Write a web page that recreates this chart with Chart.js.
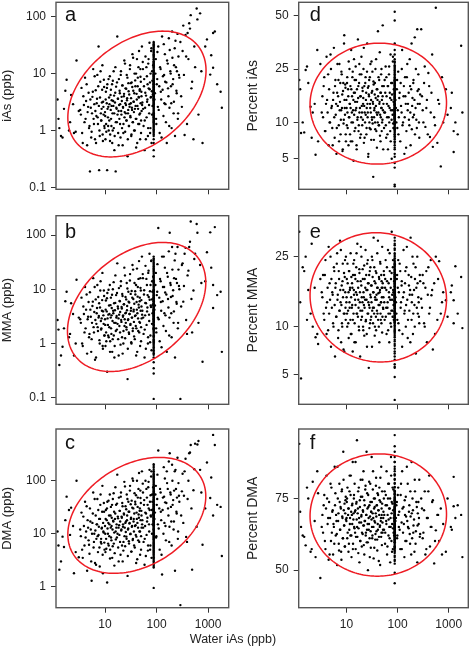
<!DOCTYPE html>
<html><head><meta charset="utf-8">
<script src="https://cdn.jsdelivr.net/npm/chart.js@4.4.1/dist/chart.umd.min.js"></script>
<style>
html,body{margin:0;padding:0;background:#fff;}
#wrap{position:relative;width:472px;height:649px;overflow:hidden;background:#fff;}
canvas{position:absolute;}
#xtitle{position:absolute;left:0;width:466px;top:632px;text-align:center;font-family:'Liberation Sans',Arial,sans-serif;font-size:12.5px;line-height:15px;color:#222;}
</style></head><body>
<div id="wrap">
<canvas id="pa" width="236" height="205" style="left:0;top:0"></canvas>
<canvas id="pd" width="236" height="205" style="left:236px;top:0"></canvas>
<canvas id="pb" width="236" height="205" style="left:0;top:205px"></canvas>
<canvas id="pe" width="236" height="205" style="left:236px;top:205px"></canvas>
<canvas id="pc" width="236" height="239" style="left:0;top:410px"></canvas>
<canvas id="pf" width="236" height="239" style="left:236px;top:410px"></canvas>
<div id="xtitle">Water iAs (ppb)</div>
</div>
<script>
// ---------------- DATA ----------------
// water iAs (ppb), shared by all six panels (same order in every y array)
const waterIAs = [
 1.2,1.3,1.5,1.6,1.8,2.0,2.2,2.5,2.8,3.1,
 3.4,3.5,3.7,3.9,4.0,4.1,4.3,4.5,4.6,4.8,
 5.0,5.1,5.3,5.5,5.7,5.9,6.0,6.2,6.4,6.6,
 6.8,7.0,7.1,7.3,7.5,7.7,7.9,8.1,8.3,8.5,
 8.7,8.9,9.1,9.3,9.6,9.8,
 10.0,10.2,10.4,10.5,10.8,11.0,11.1,11.4,11.6,11.8,
 12.0,12.1,12.4,12.6,12.9,13.0,13.3,13.5,13.8,14.0,
 14.2,14.5,14.8,15.0,15.2,15.6,15.9,16.1,16.4,16.8,
 17.0,17.3,17.7,18.0,18.3,18.6,19.0,19.4,19.7,20.0,
 20.4,20.8,21.2,21.6,22.0,22.4,22.8,23.2,23.7,24.1,
 24.6,25.0,25.5,26.0,26.4,26.9,27.4,27.9,28.4,29.0,
 29.5,30.0,30.6,31.2,31.7,32.3,32.9,33.5,34.1,34.8,
 35.4,36.1,36.7,37.4,38.1,38.8,39.5,40.2,41.0,41.7,
 42.5,43.3,44.1,44.9,45.7,46.5,47.4,48.0,48.5,49.0,
 49.5,50.1,50.7,51.3,52.0,
 53,54.5,56,57,58.5,60,61,62.5,64,65,66.5,68,69,70.5,72,73,74.5,76,77,78.5,80,81,82,83.5,
 93,97,99,103,106,108,113,115,120,123,128,131,136,140,145,149,155,158,165,170,
 176,180,188,193,200,205,214,219,228,233,243,249,259,266,277,
 290,310,330,350,375,400,430,460,490,520,560,600,650,700,780,880,
 1100,1250,1250,1350,1750,1850,
 // second block
 1.25,1.4,1.7,2.1,2.4,2.7,
 3.3,3.6,3.8,4.2,4.4,4.7,4.9,5.2,5.4,5.6,
 5.8,6.1,6.3,6.5,6.7,6.9,7.2,7.4,7.6,7.8,
 8.0,8.2,8.4,8.6,8.8,9.0,9.2,9.4,9.5,9.7,
 10.1,10.3,10.6,10.9,11.2,11.5,11.7,12.2,12.5,12.8,
 13.1,13.4,13.7,14.1,14.4,14.7,15.1,15.4,15.8,16.2,
 16.6,17.1,17.5,17.9,18.4,18.8,19.2,19.6,20.2,20.6,
 21.0,21.4,21.9,22.3,22.7,23.4,23.9,24.4,24.8,25.3,
 25.8,26.2,26.7,27.2,27.7,28.2,28.7,29.3,29.8,30.4,
 31.0,31.5,32.0,32.6,33.2,33.8,34.5,35.1,35.8,36.4,
 37.0,37.8,38.5,39.2,40.0,40.6,41.4,42.2,43.0,43.8,
 44.6,45.4,46.2,47.0,47.8,48.8,50.0,51.0,52.5,54.0,
 55,57.5,59,60.5,62,63.5,65.5,67,68.5,70,71.5,73.5,75,76.5,78,79.5,81.5,83,84.5,86,
 91,95,98,101,104,110,117,121,125,133,138,142,147,152,160,167,173,178,185,190,
 196,203,210,217,225,238,246,255,262,272,
 300,320,340,365,390,415,445,475,540,620,740,950,
 1150,1500
];
// samples sharing one water iAs value (vertical stripe)
const stripeWaterIAs = 88;

const iAsPpb = [
 3.5,1.1,0.75,2.4,7.8,1.0,4.2,0.9,17,2.2,
 1.9,5.6,0.6,2.8,1.4,8.5,3.3,0.55,2.1,4.6,
 1.2,0.19,2.5,0.95,3.9,12,1.6,2.9,0.7,5.1,
 1.8,3.6,9.5,1.3,30,0.2,0.8,7.2,2.0,1.5,
 3.1,14,0.65,2.6,5.8,1.1,
 2.1,0.7,4.8,1.3,3.0,0.2,6.5,1.7,2.6,1.0,
 3.8,1.5,9.0,0.85,2.3,5.2,1.2,3.4,0.6,2.0,
 7.5,2.7,1.1,4.1,0.45,3.1,13,0.19,5.9,2.4,
 1.4,45,3.6,0.9,2.2,8.0,1.6,4.5,2.9,0.75,
 11,1.9,3.3,6.2,0.55,2.5,1.3,4.0,17,2.1,
 0.95,5.5,2.8,1.5,9.5,3.7,0.35,2.0,6.8,1.2,
 4.3,2.6,14,1.7,3.0,0.8,7.0,2.3,22,1.4,
 5.0,3.2,1.0,10,2.4,6.0,1.6,0.5,4.4,18,
 2.7,8.5,1.3,3.9,25,1.9,5.3,0.7,12,3.0,
 7.2,1.5,4.8,2.2,30,
 3.1,12,1.2,6.0,0.45,2.5,20,4.1,1.7,9.0,3.5,0.8,15,5.5,2.0,35,7.0,1.1,3.8,25,0.6,4.9,11,2.7,
 4.5,18,1.3,8.0,2.6,30,6.0,0.9,12,3.5,45,5.2,1.8,9.5,22,2.9,7.0,0.6,15,4.0,
 1.2,26,10,3.0,55,6.5,2.0,14,0.8,38,5.0,11,1.6,20,8.5,
 36,2.6,70,0.83,20,52,77,107,7.2,0.7,13,140,1.9,115,0.6,30,
 9.6,52,12.7,55,4.8,2.5,
 // second block
 1.6,0.8,5.0,1.4,2.9,0.95,
 2.3,0.9,4.0,1.6,6.5,2.6,1.1,3.5,0.75,2.0,
 4.8,1.3,9.0,2.2,0.6,3.0,1.7,6.0,2.7,1.0,
 3.8,11,1.5,2.4,5.2,0.85,3.2,1.9,7.8,1.2,
 1.8,3.5,0.95,5.6,2.4,1.2,8.0,2.9,0.65,4.2,
 1.6,2.7,6.5,1.0,3.3,11,2.0,0.8,4.6,1.4,
 2.5,7.0,1.9,3.6,0.55,2.8,5.0,1.3,9.5,2.2,
 3.9,1.1,6.2,2.6,0.9,4.4,1.7,15,3.0,2.0,
 5.4,1.5,3.4,8.5,0.7,2.3,4.9,1.2,2.9,12,
 1.8,6.8,3.7,0.85,2.5,5.8,1.4,19,3.2,2.1,
 4.5,1.0,7.6,2.7,10,1.6,3.5,0.6,6.0,2.4,
 13,3.8,1.3,5.0,2.0,8.8,0.9,4.0,2.8,16,
 2.4,8.0,1.5,4.6,0.7,13,3.2,6.5,1.1,18,2.8,5.3,0.9,10,3.9,28,1.9,7.5,4.3,14,
 3.5,10,1.6,6.5,24,2.3,13,4.8,0.75,9.0,33,3.0,7.2,1.4,17,5.5,42,2.5,11,6.0,
 1.1,19,8.0,3.2,28,13,4.5,50,2.0,9.5,
 4.0,25,9.5,48,1.3,18,62,5.5,30,90,11,40,
 21,6.5
];
const iAsPpbStripe = [
 0.9,1.0,1.1,1.2,1.3,1.4,1.5,1.6,1.7,1.8,1.9,2.0,2.2,2.4,2.6,2.8,3.0,3.2,3.4,3.6,
 3.8,4.0,4.2,4.4,4.6,4.8,5.0,5.3,5.6,6.0,6.3,6.7,7.0,7.5,8.0,8.5,9.0,9.5,10,11,
 12,13,14,15,16,17.5,19,21,23,25,27,30,33,36,0.6,0.45,0.35,5.8,6.5,4.3,
 1.05,1.15,1.25,1.35,1.45,1.55,1.65,1.75,1.85,1.95,2.1,2.3,2.5,2.7,2.9,3.1,3.3,3.5,3.7,3.9,
 4.1,4.3,4.5,4.7,4.9,5.15,5.45,5.75,6.15,6.5,6.85,7.25,7.75,8.25,8.75,9.25,9.75,10.5,11.5,12.5,
 13.5,14.5,15.5,16.5,18,20,22,24,26,28.5,31.5,34.5,0.8,0.85,0.95,3.45,4.05,2.05,5.05,0.7
];

const mmaPpb = [
 2.7,0.4,0.87,1.9,9.0,1.3,5.5,0.6,15,3.0,
 2.4,7.0,0.9,3.5,1.6,11,4.2,0.65,2.8,5.8,
 1.5,8.8,3.1,1.2,4.9,16,2.0,3.8,0.5,6.5,
 2.3,4.5,12,1.7,3.0,5.5,1.0,9.5,2.6,1.9,
 4.0,20,0.8,3.3,7.5,1.4,
 2.8,0.9,6.2,1.6,3.9,0.3,8.5,2.2,3.4,1.3,
 5.0,2.0,12,1.1,3.0,7.0,1.5,4.5,0.7,2.6,
 10,3.6,1.4,5.5,0.55,4.1,18,2.4,7.8,3.2,
 1.8,30,4.8,1.2,2.9,10.5,2.1,6.0,3.8,0.95,
 14,2.5,4.4,8.2,0.65,3.3,1.7,5.3,25,2.8,
 1.25,7.2,3.7,2.0,13,4.9,0.22,2.7,9.0,1.6,
 5.7,3.5,19,2.3,4.0,1.05,9.3,3.0,28,1.9,
 6.6,4.2,1.35,13,3.2,8.0,2.1,0.6,5.8,24,
 3.6,11,1.7,5.2,33,2.5,7.0,0.9,16,4.0,
 9.5,2.0,6.3,2.9,40,
 4.0,16,1.5,8.0,0.55,3.3,27,5.5,2.2,12,4.6,1.0,20,7.2,2.6,45,9.2,1.4,5.0,33,0.75,6.5,14,3.6,
 5.0,20,1.6,9.0,3.0,135,7.0,1.1,14,4.0,40,6.0,2.1,11,25,3.3,8.0,0.7,17,4.6,
 1.4,110,12,3.6,60,7.5,2.4,16,0.55,45,5.8,13,1.9,23,10,
 0.095,28,5.9,45,2.7,18,60,178,1.6,9.5,45,160,2.4,28,0.46,14,
 112,12,4.5,140,9.0,0.7,
 // second block
 1.8,0.6,6.0,1.5,3.5,1.0,
 2.8,1.0,4.8,1.9,8.0,3.1,1.3,4.2,0.7,2.4,
 5.9,1.6,11,2.7,0.55,3.6,2.0,7.2,3.2,1.15,
 4.6,14,1.8,2.9,6.3,0.9,3.9,2.3,9.5,1.4,
 2.2,4.2,1.1,6.8,2.9,1.4,9.8,3.5,0.7,5.1,
 1.9,3.3,7.9,1.2,4.0,13.5,2.4,0.9,5.6,1.7,
 3.0,8.5,2.3,4.4,0.6,3.4,6.1,1.6,11.5,2.7,
 4.7,1.3,7.5,3.1,1.0,5.3,2.1,18,3.6,2.4,
 6.5,1.8,4.1,10.3,0.8,2.8,5.9,1.5,3.5,14.5,
 2.2,8.2,4.5,1.0,3.0,7.0,1.7,23,3.9,2.5,
 5.4,1.2,9.2,3.3,12,1.9,4.2,0.7,7.3,2.9,
 15.5,4.6,1.6,6.0,2.4,10.6,1.1,4.8,3.4,19,
 3.0,9.6,1.8,5.6,0.8,15.5,3.9,7.8,1.3,22,3.4,6.4,1.05,12,4.7,34,2.3,9.0,5.2,17,
 4.2,12,1.9,7.8,29,2.8,15.5,5.8,0.85,11,40,3.6,8.7,1.7,20,6.6,50,3.0,13,7.2,
 1.3,23,9.6,3.9,34,15.5,5.4,60,2.4,11.5,
 4.8,30,11.5,58,1.5,22,75,6.6,36,110,13,48,
 25,7.8
];
const mmaPpbStripe = [
 0.62,0.7,0.8,0.9,1.0,1.1,1.2,1.35,1.5,1.65,1.8,2.0,2.2,2.4,2.6,2.8,3.0,3.3,3.6,3.9,
 4.2,4.5,4.8,5.2,5.6,6.0,6.5,7.0,7.5,8.0,8.6,9.2,10,11,12,13,14,15.5,17,19,
 21,23,25,28,31,35,40,0.45,0.35,0.28,0.095,2.9,3.1,3.5,4.0,9.5,2.5,1.9,6.8,5.4,
 0.66,0.75,0.85,0.95,1.05,1.15,1.27,1.42,1.57,1.72,1.9,2.1,2.3,2.5,2.7,2.9,3.15,3.45,3.75,4.05,
 4.35,4.65,5.0,5.4,5.8,6.25,6.75,7.25,7.75,8.3,8.9,9.6,10.5,11.5,12.5,13.5,14.7,16.2,18,20,
 22,24,26.5,29.5,33,37,3.25,3.6,4.2,2.6,2.2,4.9,6.0,1.35,1.8,2.75,3.9,5.1,0.55,7.0
];

const dmaPpb = [
 11,2.1,8.8,5.6,50,28,31,1.8,100,3.6,
 9.0,25,3.5,14,6.0,40,11,2.0,18,7.5,
 4.2,30,12,1.3,16,60,5.5,10,2.8,22,
 8.0,15,45,4.5,9.5,19,2.4,35,7.0,6.5,
 13,80,1.8,11,26,5.0,
 14,4.5,28,8.0,18,1.2,40,10,16,6.0,
 22,9.0,55,5.0,13,32,7.5,20,3.5,12,
 45,17,6.5,26,2.5,19,75,11,35,15,
 8.5,130,21,5.5,13,48,9.5,27,17,4.0,
 60,12,20,38,3.0,15,7.0,24,95,13,
 5.8,33,17,8.8,55,22,1.6,12,40,7.2,
 26,16,80,10,19,4.6,42,14,110,8.0,
 30,19,6.0,58,14,36,9.5,2.8,25,100,
 16,48,7.5,23,140,11,30,4.0,65,18,
 38,9.0,27,13,150,
 18,60,7.0,35,2.6,14,100,24,9.5,48,20,4.8,75,30,11,160,40,6.0,22,120,3.5,28,55,15,
 25,80,9.0,45,15,370,30,5.0,60,18,1.7,28,10,50,110,14,38,150,70,22,
 7.0,330,55,17,200,35,12,65,2.0,160,26,48,8.0,90,40,
 0.45,63,16,150,8.7,45,330,470,2.1,66,500,13.5,560,160,6.2,30,
 47,730,22,470,32,3.8,
 // second block
 6.0,3.0,18,9.5,14,4.5,
 12,5.0,21,8.5,33,13,6.2,17,3.0,10,
 24,7.0,45,11.5,2.6,15,9.0,28,13.5,5.5,
 19,55,8.0,12.5,26,4.0,16,10.5,38,6.8,
 10,19,5.2,30,12.5,6.5,42,15,3.4,22,
 8.5,14,35,5.8,17.5,58,10.5,4.3,24,7.8,
 13,37,10,19.5,3.0,14.5,27,7.0,50,11.5,
 21,6.0,33,13.5,4.8,23,9.0,78,16,10.8,
 29,8.0,18,45,3.8,12.5,26,6.5,15.5,65,
 9.8,36,20,4.6,13.5,31,7.6,100,17,11,
 24,5.5,40,14.5,53,8.8,19,3.3,32,13,
 70,20,7.0,27,11,47,5.0,22,15,88,
 13,43,8.0,25,3.8,70,17,35,6.0,95,15,28,5.0,53,21,150,10,40,23,75,
 19,55,8.5,35,130,12.5,70,26,4.0,48,180,16,39,7.5,90,30,230,13.5,60,32,
 6.0,100,43,17,150,70,24,270,11,52,
 22,135,52,260,7.0,100,340,30,165,480,60,220,
 115,35
];
const dmaPpbStripe = [
 2.3,2.6,3.0,3.4,3.8,4.2,4.6,5.0,5.5,6.0,6.5,7.0,7.6,8.2,9.0,9.8,10.5,11.5,12.5,13.5,
 14.5,15.5,17,18,19.5,21,22.5,24,26,28,30,32,34,37,40,43,46,50,54,58,
 63,68,74,80,87,95,105,115,125,140,160,190,0.95,20,23,25,27,16,35,12,
 2.45,2.8,3.2,3.6,4.0,4.4,4.8,5.25,5.75,6.25,6.75,7.3,7.9,8.6,9.4,10.2,11,12,13,14,
 15,16.5,17.5,18.5,20.5,21.5,23.5,25,27,29,31,33,35.5,38.5,41.5,44.5,48,52,56,60.5,
 65.5,71,77,83.5,91,100,110,120,132,150,175,205,19,22,24.5,26,28,30,17,14.5
];

const pctIAs = [
 21,8.2,8.3,24.6,20,13.3,12,5.4,7,27,
 16,11,22,8.5,14,30,12,6.5,18,10,
 25,13,9,15,34,7.5,19,11.5,5.5,17,
 13.5,21,9.5,27,14.5,8,12.5,23,16.5,6,
 20,10.5,40,13,18.5,7,
 15,9.5,22,12,18,6.5,28,11,14,8,
 19,13,33,10,16,7,24,12.5,4.8,17,
 11.5,21,14.5,9,26,13,6,18,10.5,38,
 15.5,8.5,20,12,23,7.5,16,11,30,13.5,
 9.5,17.5,14,25,6.8,19,12,10,22,15,
 8,13,36,11,18.5,5.5,16.5,21,9,14,
 27,12,7.2,17,10.5,24,14.5,3.5,19.5,11,
 13,20,8.8,15.5,29,12,6.2,18,10,16,
 22,9.5,14,32,11.5,7,17,13,25,8.5,
 15,19,10.5,45,12.5,
 14,9,21,12,26,7.5,16,11,19,6,13.5,23,10,17,8.5,31,12.5,15,5,20,11.5,28,9.8,14.5,
 13,18,9,24,11,15.5,7,20,12,33,10,16,5.5,22,14,8.5,27,12.5,17,9.5,
 19,6.5,36,13.5,11,21,15,8,25,10.5,43,14,18,7.5,16.5,
 43,12.5,20,9.2,15,23.5,7.6,17,6.3,11,54,6.8,14,4.3,10,18,
 13,8.5,5.7,10,35,12,
 // second block
 18,10,26,7.5,14,33,
 12,19,8.5,15,23,10,31,13.5,6.5,17,
 11,21,14,9,27,16,7,12.5,20,10.5,
 24,13,5.8,17.5,9.8,36,15,11.5,19.5,8,
 13,20,9,16,11,25,14,7,18,12,
 22,10,15,29,8.5,17,12.5,21,6.5,14.5,
 11,19,9.5,27,13,16,8,23,12,18.5,
 10.5,15.5,34,13.5,7.5,20,11.5,17,9,24,
 14,12,5.2,19,16,10,22,13,8.8,15,
 28,11,17.5,9.8,14,20.5,7.2,12.5,16.5,10,
 25,13.5,8.5,18,11.5,15,42,12,9.5,21,
 14.5,7.8,17,11,23,13,10,16,6,19,
 12,17,9.5,22,14,8,19,11,26,13,15.5,7,20,10.5,16.5,12.5,30,9,18,14.5,
 15,10,21,12.5,8,17,13.5,25,9.5,19,11,16,6.2,22,14,10.5,29,12,18,8.8,
 15.5,20,11.5,39,13,9,17.5,23,10,14,
 16,10,26,13,8,19,12,31,9.5,15,22,11.5,
 17,8
];
const pctIAsStripe = [
 5.5,6,6.5,7,7.3,7.7,8,8.4,8.8,9.2,9.6,10,10.3,10.6,11,11.3,11.6,12,12.3,12.6,
 13,13.3,13.7,14,14.5,15,15.5,16,16.5,17,17.5,18,18.5,19,19.5,20,20.5,21,21.5,22,
 23,24,25,26,27.5,29,31,52,47.5,2.9,3.0,10.8,11.8,12.8,9.8,8.6,13.9,4.6,15.2,16.8,
 6.2,6.8,7.5,8.2,9,9.4,9.9,10.1,10.5,10.9,11.1,11.4,11.7,11.9,12.1,12.4,12.7,13.1,13.5,13.8,
 14.2,14.7,15.3,15.8,16.2,16.7,17.3,17.8,18.3,18.8,19.3,19.8,20.3,21,22.5,23.5,24.5,26.5,28,33,
 10.7,11.5,12.2,12.9,13.6,10.2,11.2,12.5,9.7,14,7.9,8.9,15.6,16.9,17.6,20.8,5.2,4.2,25.5,36
];

const pctMMA = [
 33,4.7,21,25,16.5,12,10,8.6,7.8,19,
 15,20,11,24,13,9,17,28,12,14.5,
 7.5,19,16,10.5,22,13.5,6.5,18,11.5,26,
 15.5,9.5,21,12.5,30,14,8,17.5,10,23,
 16.5,12,7,19.5,13,25,
 14,19,10,23,12.5,16,8.5,21,13,17,
 11,26,15,9,18,13.5,7,20,12,16.5,
 24,10.5,14.5,19,8,22,12,15.5,29,11.5,
 17,13,9.5,20.5,14,6.5,18.5,11,25,15,
 12.5,21.5,10,16,13.5,8.8,19,14.5,27,11,
 16.5,9,23,12,18,14,5.5,20,13,10.5,
 22,15,11.5,17.5,7.5,24,13,16,31,12,
 18.5,10,14.5,21,9.5,15.5,12.5,26,17,11,
 13.5,19.5,8,16,23.5,12,14,20,10.5,17,
 15,28,11.5,18,13,
 15,20,11,17,24,13,9,18.5,14,27,12,16,8,21,14.5,10.5,19,12.5,33,15.5,11.5,22,16.5,13.5,
 14,19,11,24,16,9.5,21,13,17.5,7.5,15,27,12,18,10,22,14.5,8.5,20,12.5,
 16.5,31,11,15.5,9,23,13.5,19,6.8,17,25,12,14,10.5,18.5,
 14.7,20,10.5,17,8,22,13,15.4,7.2,18,25,11,23.7,12,16,14.4,
 16,14.4,10.5,22.3,19.5,9.8,
 // second block
 14,22,11,29,17,9,
 16,12,20,14,9.5,18,25,13,15.5,10,
 21,17,11.5,23,14.5,8.5,19,12.5,16.5,27,
 13.5,10.5,18.5,15,7.2,20.5,12,24,16,11,
 15,12,18,10.5,21,14,16.5,9,19.5,13,
 17,11,23,15.5,8,20,13.5,16,26,12,
 18.5,14.5,10,21.5,16,12.5,28,17.5,11.5,14,
 19,9.5,15,22.5,13,17,10.8,20,14.5,7.5,
 16.5,24,12,18,13.5,9.8,21,15.5,11,17.5,
 14,25,12.5,19.5,10.5,16,13,22,8.8,15,
 18,11.5,20.5,14.5,17,12,30,15.8,10,19,
 13.5,16.5,23,11,14,18.5,9.2,17,12.8,21,
 14,19,11.5,16.5,22,13,9.5,18,15,26,12,17,10,20.5,14.5,12.5,24,16,11,18.5,
 15,12,20,17,10.5,23,14,18.5,9,16,12.5,21,13.5,28,11,17.5,15.5,8,19.5,14,
 25,12,16.5,10,22,13,18,15,11.5,20,
 13,18,10,21,15.5,12,24,16.5,9,19,14,11.5,
 17.5,12
];
const pctMMAStripe = [
 6.2,6.8,7.3,7.8,8.3,8.8,9.2,9.6,10,10.4,10.8,11.2,11.6,12,12.4,12.8,13.2,13.6,14,14.4,
 14.8,15.2,15.6,16,16.5,17,17.5,18,18.5,19,19.5,20,20.6,21.2,21.8,22.5,23.2,24,25,26,
 27,28.5,30,31,3.4,5.5,5.8,15.4,16.3,17.3,14.2,13.4,18.8,12.2,19.8,11.4,20.3,23.6,10.6,9.4,
 6.5,7,7.6,8.1,8.6,9,9.4,9.8,10.2,10.6,11,11.4,11.8,12.1,12.6,13,13.4,13.8,14.2,14.6,
 15,15.4,15.8,16.2,16.7,17.2,17.7,18.2,18.7,19.2,19.7,20.2,20.9,21.5,22.2,23,24.5,25.5,27.5,29,
 14.1,14.9,15.7,16.5,13.7,12.9,17.9,18.4,19.4,12.4,11.7,16,14.4,15.2,20.6,22.8,10.9,13.2,5.6,4.8
];

const pctDMA = [
 87.4,66,62.5,59.4,75,57,79.5,55,76.5,47,
 70,64,76,58,72,81,67,54,74,69,
 61,78,71,56,66,83,73,63,68,52,
 75,70.5,60,79,65,72.5,57,77,69.5,62,
 86,71.5,66.5,59,74.5,68.5,
 68,74,62,78,70,57,72,65,81,69,
 63,76,71,55,73,67,84,60,70.5,75,
 66,79,64,71.5,58,73.5,68.5,88,62.5,72,
 77,65.5,69,53,74.5,61,80,67.5,70,59,
 75.5,63.5,71,82,66.5,56,73,68,78.5,64,
 70,60.5,76.5,67,50,72.5,65,79.5,62,69.5,
 74,58.5,71,85,66,63,77.5,69,54.5,72,
 68,75,61.5,70.5,80.5,64.5,73,57.5,67,76,
 71.5,62.5,78,66,52,74,69,83,64,70,
 59.5,73.5,67.5,90,65,
 71,65,77,60,73,68,82,56,70,75,63,79,66,72,53,69,85,61,74,67,78,58,71.5,64,
 69,74,63,78,66,71,58,76,67.5,82,64,72.5,55,70,75.5,61,68,79,65.5,73,
 60,69.5,84,62,71.5,66.5,57,77,64.5,74,53,70.5,67,80,63.5,
 75,62,71.5,56,69,77,59,66,74.5,52.6,64.8,70,61,72,67,57,
 66,80.7,72.7,69,70,55,
 // second block
 71,63,78,58,68,82,
 66,73,61,75,69,56,79,64,71.5,67,
 60,76.5,70,63.5,83,68,57.5,74,65,72,
 54,77.5,69,62,80,66.5,73.5,59,70.5,75.5,
 69,75,64,72,60,77,67,81,63,70,
 73.5,58,68.5,76,65.5,71,84,62.5,74,66,
 70.5,56.5,78,67.5,72.5,61,75.5,69.5,64,80,
 71.5,66.5,59.5,74.5,68,77.5,63,70,86,65,
 72,60.5,76,69,67,73,55,79,64.5,71,
 68.5,74,62,70.5,82,66,75,58.5,72.5,67.5,
 63.5,78.5,69.5,73,61.5,76.5,65,71.5,53.5,70,
 74.5,66.5,80.5,68,62.5,72,77,64,69,75,
 70,64,76,67,73,59,79,68.5,72,62,75,66,81,70.5,57,73.5,65.5,77.5,69,63,
 68,73,62,76,70,65,79,58,72,67,74.5,61,69.5,83,66,71,63.5,77,56,70.5,
 75,64,68.5,80,60,72.5,66.5,74,69,62.5,
 72,64,77,58,69,81,66,74,61,70,56,75,
 65,73
];
const pctDMAStripe = [
 52.5,54,55.5,57,58,59,60,61,62,63,63.8,64.6,65.4,66.2,67,67.8,68.6,69.4,70.2,71,
 71.8,72.6,73.4,74.2,75,76,77,78,79,80,81,82,83,84,85,88.8,45,64.2,66.6,68.2,
 69.8,65.8,67.4,70.6,72.2,61.5,63.3,73.8,75.5,62.5,60.5,76.5,58.5,71.4,69,66.9,65,68,74.5,70.9,
 53.5,55,56.5,57.5,58.5,59.5,60.5,61.5,62.3,63,63.6,64.4,65.2,66,66.7,67.4,68.1,68.8,69.6,70.4,
 71.2,72,72.8,73.6,74.4,75.3,76.2,77.2,78.2,79.2,80.2,81.3,82.5,84,86,64.9,66.4,67.9,69.2,70.7,
 71.6,68.4,65.7,63.9,73.2,74.8,62.8,61,76.8,59,67.1,69.9,71.9,66.3,68.9,72.4,64.1,70,49,87
];

// tick labels
const waterTicks = [10, 100, 1000];
const ppbTicksAB = [0.1, 1, 10, 100];
const ppbTicksC = [1, 10, 100];
const pctTicksD = [5, 10, 25, 50];
const pctTicksE = [5, 10, 25];
const pctTicksF = [50, 75];

// axis ranges
const waterRangeLeft = [1.12, 2510];
const waterRangeRight = [1.17, 2415];
const yRangeA = [0.092, 180], yRangeB = [0.0755, 227], yRangeC = [0.402, 944];
const yRangeD = [2.73, 56.8], yRangeE = [3.18, 38.8], yRangeF = [36.0, 89.7];

// red ellipses: [x left, x right, y bottom, y top, x at top], in data units
const ellipseA = [1.90, 912, 0.342, 56, 132];
const ellipseB = [1.87, 902, 0.304, 73, 132];
const ellipseC = [1.90, 902, 1.79, 275, 114];
const ellipseD = [1.95, 906, 4.5, 36.2, 44];
const ellipseE = [1.95, 906, 6.0, 32.7, 38];
const ellipseF = [1.95, 906, 47.7, 85.6, 44];

// ---------------- CHARTS ----------------
const FONT = "'Liberation Sans', Arial, sans-serif";
Chart.defaults.font.family = FONT;
Chart.defaults.color = '#222';
const logit = p => Math.log(p / (100 - p));

const cols = [
  {w: 236, areaL: 56, areaR: 228.7, range: waterRangeLeft, titlePad: 0, titleSize: 13, letterX: 9},
  {w: 236, areaL: 62.7, areaR: 232.3, range: waterRangeRight, titlePad: 8.6, titleSize: 14, letterX: 11}
];
const rows = [
  {h: 205, areaT: 2.3, areaB: 189.3, letterY: 18.5},
  {h: 205, areaT: 10.7, areaB: 199.3, letterY: 22},
  {h: 239, areaT: 19, areaB: 197.7, letterY: 20.3}
];

const panels = [
  {id: 'pa', letter: 'a', title: 'iAs (ppb)', y: iAsPpb, ys: iAsPpbStripe, logit: false, ticks: ppbTicksAB, range: yRangeA, ell: ellipseA, col: 0, row: 0},
  {id: 'pb', letter: 'b', title: 'MMA (ppb)', y: mmaPpb, ys: mmaPpbStripe, logit: false, ticks: ppbTicksAB, range: yRangeB, ell: ellipseB, col: 0, row: 1},
  {id: 'pc', letter: 'c', title: 'DMA (ppb)', y: dmaPpb, ys: dmaPpbStripe, logit: false, ticks: ppbTicksC, range: yRangeC, ell: ellipseC, col: 0, row: 2},
  {id: 'pd', letter: 'd', title: 'Percent iAs', y: pctIAs, ys: pctIAsStripe, logit: true, ticks: pctTicksD, range: yRangeD, ell: ellipseD, col: 1, row: 0},
  {id: 'pe', letter: 'e', title: 'Percent MMA', y: pctMMA, ys: pctMMAStripe, logit: true, ticks: pctTicksE, range: yRangeE, ell: ellipseE, col: 1, row: 1},
  {id: 'pf', letter: 'f', title: 'Percent DMA', y: pctDMA, ys: pctDMAStripe, logit: true, ticks: pctTicksF, range: yRangeF, ell: ellipseF, col: 1, row: 2}
];

const decor = {
  id: 'decor',
  afterDatasetsDraw(chart) {
    const p = chart.options.plugins.decor.panel;
    const ctx = chart.ctx, xs = chart.scales.x, ys = chart.scales.y;
    const Tx = v => Math.log10(v);
    const Ty = p.logit ? logit : (v => Math.log10(v));
    const [xl, xh, yl, yh, xt] = p.ell;
    const cx = (Tx(xl) + Tx(xh)) / 2, sx = (Tx(xh) - Tx(xl)) / 2;
    const cy = (Ty(yl) + Ty(yh)) / 2, sy = (Ty(yh) - Ty(yl)) / 2;
    const rho = Math.max(-1, Math.min(1, (Tx(xt) - cx) / sx));
    const d = Math.acos(rho);
    ctx.save();
    ctx.beginPath();
    for (let i = 0; i <= 200; i++) {
      const t = i / 200 * Math.PI * 2;
      const X = cx + sx * Math.cos(t);
      const Y = cy + sy * Math.cos(t - d);
      const px = xs.getPixelForValue(Math.pow(10, X));
      const py = ys.getPixelForValue(p.logit ? Y : Math.pow(10, Y));
      if (i === 0) ctx.moveTo(px, py); else ctx.lineTo(px, py);
    }
    ctx.closePath();
    ctx.strokeStyle = '#ee1c24';
    ctx.lineWidth = 1.5;
    ctx.stroke();
    ctx.restore();
  },
  afterDraw(chart) {
    const p = chart.options.plugins.decor.panel;
    const a = chart.chartArea, ctx = chart.ctx;
    ctx.save();
    ctx.strokeStyle = '#555';
    ctx.lineWidth = 1.4;
    ctx.strokeRect(a.left, a.top, a.right - a.left, a.bottom - a.top);
    ctx.fillStyle = '#111';
    ctx.font = '20px ' + FONT;
    ctx.textBaseline = 'alphabetic';
    ctx.textAlign = 'left';
    ctx.fillText(p.letter, a.left + cols[p.col].letterX, a.top + rows[p.row].letterY);
    ctx.restore();
  }
};

panels.forEach(p => {
  const col = cols[p.col], row = rows[p.row];
  const ty = p.logit ? logit : (v => v);
  const n = Math.min(waterIAs.length, p.y.length);
  const pts = [];
  for (let i = 0; i < n; i++) pts.push({x: waterIAs[i], y: ty(p.y[i])});
  p.ys.forEach(v => pts.push({x: stripeWaterIAs, y: ty(v)}));
  const isBottom = p.row === 2;
  const tickFont = {family: FONT, size: 12};
  new Chart(document.getElementById(p.id), {
    type: 'scatter',
    data: {datasets: [{data: pts, pointRadius: 1.2, pointHoverRadius: 1.2, pointStyle: 'circle',
      backgroundColor: '#000', borderColor: '#000', borderWidth: 0}]},
    options: {
      responsive: false, animation: false, devicePixelRatio: 1, events: [],
      layout: {padding: {left: 0, top: row.areaT, right: col.w - col.areaR, bottom: 0}},
      plugins: {legend: {display: false}, tooltip: {enabled: false}, decor: {panel: p}},
      scales: {
        x: {
          type: 'logarithmic', min: col.range[0], max: col.range[1],
          afterBuildTicks: s => { s.ticks = waterTicks.map(v => ({value: v})); },
          afterFit: s => { s.height = row.h - row.areaB; s.paddingLeft = 0; s.paddingRight = 0; },
          ticks: {display: isBottom, font: tickFont, color: '#222', padding: 5, maxRotation: 0, autoSkip: false,
            callback: (v, i) => String(waterTicks[i])},
          grid: {display: true, drawOnChartArea: false, drawTicks: true, tickLength: 5, color: '#333', lineWidth: 1},
          border: {display: false}
        },
        y: {
          type: p.logit ? 'linear' : 'logarithmic',
          min: ty(p.range[0]), max: ty(p.range[1]),
          afterBuildTicks: s => { s.ticks = p.ticks.map(v => ({value: ty(v)})); },
          afterFit: s => { s.width = col.areaL; s.paddingTop = 0; s.paddingBottom = 0; },
          ticks: {font: tickFont, color: '#222', padding: 5, autoSkip: false,
            callback: (v, i) => String(p.ticks[i])},
          grid: {display: true, drawOnChartArea: false, drawTicks: true, tickLength: 5, color: '#333', lineWidth: 1},
          border: {display: false},
          title: {display: true, text: p.title, color: '#222', font: {family: FONT, size: col.titleSize},
            padding: {top: col.titlePad, bottom: 0}}
        }
      }
    },
    plugins: [decor]
  });
});
</script>
</body></html>
